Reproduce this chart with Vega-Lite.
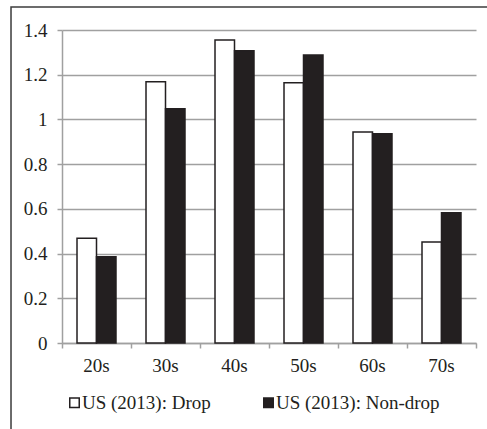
{
  "$schema": "https://vega.github.io/schema/vega-lite/v6.json",
  "width": 414,
  "height": 313,
  "autosize": {"type": "none"},
  "padding": {"left": 62, "top": 30, "right": 11, "bottom": 86},
  "background": "white",
  "config": {"font": "Liberation Serif", "view": {"stroke": null}},
  "layer": [
    {
      "data": {"values": [
        {"age": "20s", "series": "US (2013): Drop", "value": 0.468},
        {"age": "20s", "series": "US (2013): Non-drop", "value": 0.386},
        {"age": "30s", "series": "US (2013): Drop", "value": 1.169},
        {"age": "30s", "series": "US (2013): Non-drop", "value": 1.048},
        {"age": "40s", "series": "US (2013): Drop", "value": 1.355},
        {"age": "40s", "series": "US (2013): Non-drop", "value": 1.307},
        {"age": "50s", "series": "US (2013): Drop", "value": 1.164},
        {"age": "50s", "series": "US (2013): Non-drop", "value": 1.288},
        {"age": "60s", "series": "US (2013): Drop", "value": 0.944},
        {"age": "60s", "series": "US (2013): Non-drop", "value": 0.936},
        {"age": "70s", "series": "US (2013): Drop", "value": 0.452},
        {"age": "70s", "series": "US (2013): Non-drop", "value": 0.583}
      ]},
      "mark": {"type": "bar", "stroke": "#231f20", "strokeWidth": 1.5},
      "encoding": {
        "x": {
          "field": "age", "type": "nominal",
          "sort": ["20s", "30s", "40s", "50s", "60s", "70s"],
          "scale": {"paddingInner": 0.435, "paddingOuter": 0.2175},
          "axis": {"title": null, "labelAngle": 0, "ticks": false, "grid": false,
                   "domainColor": "#a0a0a0", "domainWidth": 1.5,
                   "labelFontSize": 19, "labelColor": "#231f20", "labelPadding": 13}
        },
        "xOffset": {
          "field": "series", "type": "nominal",
          "sort": ["US (2013): Drop", "US (2013): Non-drop"],
          "scale": {"paddingInner": 0, "paddingOuter": 0}
        },
        "y": {
          "field": "value", "type": "quantitative",
          "scale": {"domain": [0, 1.4], "nice": false},
          "axis": {"title": null, "values": [0, 0.2, 0.4, 0.6, 0.8, 1, 1.2, 1.4],
                   "format": "~g", "grid": true, "gridColor": "#a0a0a0", "gridWidth": 1.5,
                   "domainColor": "#a0a0a0", "domainWidth": 1.5,
                   "tickColor": "#a0a0a0", "tickWidth": 1.5, "tickSize": 5,
                   "labelFontSize": 19, "labelColor": "#231f20", "labelPadding": 10}
        },
        "fill": {
          "field": "series", "type": "nominal",
          "sort": ["US (2013): Drop", "US (2013): Non-drop"],
          "scale": {"range": ["#ffffff", "#231f20"]},
          "legend": {"title": null, "orient": "none", "legendX": 3, "legendY": 363,
                     "direction": "horizontal", "symbolType": "square", "symbolSize": 90,
                     "symbolStrokeColor": "#231f20", "symbolStrokeWidth": 1.5,
                     "labelFontSize": 19, "labelColor": "#231f20", "labelLimit": 300,
                     "columnPadding": 48, "labelOffset": -2}
        }
      }
    },
    {
      "data": {"values": [{"frame": 1}]},
      "mark": {"type": "rect", "filled": false, "stroke": "#3c3c3c", "strokeWidth": 1.5, "clip": false},
      "encoding": {
        "x": {"datum": -0.739, "type": "quantitative",
              "scale": {"domain": [0, 6], "nice": false, "zero": false},
              "axis": {"values": [0, 1, 2, 3, 4, 5, 6], "labels": false, "domain": false, "grid": false,
                       "tickColor": "#a0a0a0", "tickSize": 5, "tickWidth": 1.5, "title": null, "orient": "bottom"}},
        "x2": {"datum": 6.6},
        "y": {"datum": 1.503, "type": "quantitative"},
        "y2": {"datum": -0.6}
      }
    }
  ],
  "resolve": {"scale": {"x": "independent"}, "axis": {"x": "independent"}}
}
